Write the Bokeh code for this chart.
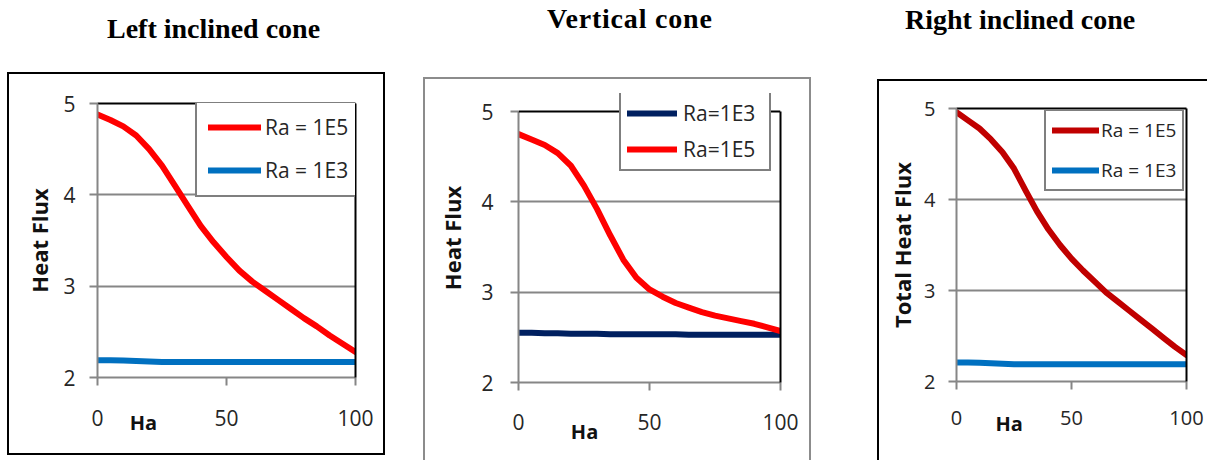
from bokeh.plotting import figure
from bokeh.models import (Range1d, FixedTicker, LinearAxis, Legend, LegendItem,
                          Div, Spacer, Span)
from bokeh.layouts import row, column
from bokeh.embed import file_html
from bokeh.resources import INLINE

# ---------------- data ----------------
ha = [0, 5, 10, 15, 20, 25, 30, 35, 40, 45, 50, 55, 60, 65, 70, 75, 80, 85, 90, 95, 100]

left_ra1e5 = [4.88, 4.82, 4.75, 4.65, 4.50, 4.32, 4.10, 3.88, 3.66, 3.48, 3.32,
              3.17, 3.05, 2.95, 2.85, 2.75, 2.65, 2.56, 2.46, 2.37, 2.28]
left_ra1e3 = [2.19, 2.19, 2.185, 2.18, 2.175, 2.17, 2.17, 2.17, 2.17, 2.17, 2.17,
              2.17, 2.17, 2.17, 2.17, 2.17, 2.17, 2.17, 2.17, 2.17, 2.17]

vert_ra1e3 = [2.55, 2.55, 2.545, 2.545, 2.54, 2.54, 2.54, 2.535, 2.535, 2.535, 2.535,
              2.535, 2.535, 2.53, 2.53, 2.53, 2.53, 2.53, 2.53, 2.53, 2.53]
vert_ra1e5 = [4.75, 4.69, 4.63, 4.54, 4.40, 4.18, 3.92, 3.63, 3.36, 3.16, 3.03,
              2.95, 2.88, 2.83, 2.78, 2.74, 2.71, 2.68, 2.65, 2.61, 2.57]

right_ra1e5 = [4.96, 4.87, 4.78, 4.66, 4.52, 4.34, 4.10, 3.87, 3.67, 3.50, 3.35,
               3.22, 3.10, 2.98, 2.88, 2.78, 2.68, 2.58, 2.48, 2.38, 2.29]
right_ra1e3 = [2.21, 2.21, 2.205, 2.20, 2.195, 2.19, 2.19, 2.19, 2.19, 2.19, 2.19,
               2.19, 2.19, 2.19, 2.19, 2.19, 2.19, 2.19, 2.19, 2.19, 2.19]

titles = ["Left inclined cone", "Vertical cone", "Right inclined cone"]
y_labels = ["Heat Flux", "Heat Flux", "Total Heat Flux"]
x_label = "Ha"
y_ticks = [2, 3, 4, 5]
x_ticks = [0, 50, 100]
grid_ticks = [3, 4]

GREY = "#868686"
TXT = "#262626"
FONT = "Open Sans"
NBSP = "\u00a0"


def make_panel(series, names, colors, legend_cfg, geom, cfg, ylab, border_css):
    mbl, fw, mbr, mbt, fh, mbb = geom
    ytop = cfg.get("ytop", 5)
    p = figure(width=mbl + fw + mbr, height=mbt + fh + mbb,
               x_range=Range1d(0, 100), y_range=Range1d(2, ytop),
               output_backend="svg", toolbar_location=None,
               min_border_left=mbl, min_border_right=mbr,
               min_border_top=mbt, min_border_bottom=mbb,
               background_fill_color="white", border_fill_color="white",
               styles=border_css)
    p.outline_line_color = None
    p.xgrid.visible = False
    p.ygrid.ticker = FixedTicker(ticks=grid_ticks)
    p.ygrid.grid_line_color = GREY
    p.ygrid.grid_line_width = 2

    ystand, ylstand, xstand, hastand = cfg["stand"]
    for ax, ticks, bnds in ((p.yaxis[0], y_ticks, (2, 5)), (p.xaxis[0], x_ticks, (0, 100))):
        ax.ticker = FixedTicker(ticks=ticks)
        ax.bounds = bnds
        ax.axis_line_color = GREY
        ax.axis_line_width = 2
        ax.major_tick_line_color = GREY
        ax.major_tick_line_width = 2
        ax.major_tick_out = 8
        ax.major_tick_in = 0
        ax.minor_tick_line_color = None
        ax.major_label_text_font = FONT
        ax.major_label_text_font_size = cfg["tick_size"]
        ax.major_label_text_color = TXT
    p.yaxis[0].major_label_standoff = ystand
    p.xaxis[0].major_label_standoff = xstand
    p.yaxis[0].axis_label = ylab
    p.yaxis[0].axis_label_standoff = ylstand
    p.yaxis[0].axis_label_text_font = FONT
    p.yaxis[0].axis_label_text_font_style = "bold"
    p.yaxis[0].axis_label_text_font_size = "22px"
    p.yaxis[0].axis_label_text_color = "#111111"

    # "Ha" placed left of centre, level with the tick labels
    xa = p.xaxis[0]
    xa.axis_label = x_label + NBSP * cfg["ha_pad"]
    xa.axis_label_standoff = hastand
    xa.axis_label_text_font = FONT
    xa.axis_label_text_font_style = "bold"
    xa.axis_label_text_font_size = "20px"
    xa.axis_label_text_color = "#111111"

    # black top and right edges of the plot area
    if ytop > 5:
        p.add_layout(Span(location=5, dimension="width", line_color="black",
                          line_width=2))
    else:
        p.add_layout(LinearAxis(ticker=FixedTicker(ticks=[]), axis_line_color="black",
                                axis_line_width=2, major_tick_line_color=None,
                                minor_tick_line_color=None, major_label_text_alpha=0),
                     "above")
    p.add_layout(LinearAxis(ticker=FixedTicker(ticks=[]), axis_line_color="black",
                            axis_line_width=2, major_tick_line_color=None,
                            minor_tick_line_color=None, major_label_text_alpha=0,
                            bounds=(2, 5)),
                 "right")

    rends = []
    for vals, col in zip(series, colors):
        r = p.line(ha, vals, line_color=col, line_width=6, line_cap="round",
                   line_join="round")
        rends.append(r)

    loc, pad, spc, gw, gh, lstand, lsize, lw = legend_cfg
    leg = Legend(items=[LegendItem(label=n, renderers=[r]) for n, r in zip(names, rends)],
                 location=loc, padding=pad, spacing=spc, glyph_width=gw,
                 glyph_height=gh, label_height=gh, label_standoff=lstand,
                 label_width=lw,
                 margin=0, border_line_color="black", border_line_width=2,
                 background_fill_color="white", background_fill_alpha=1.0,
                 label_text_font=FONT, label_text_font_size=lsize,
                 label_text_color=TXT)
    p.add_layout(leg)
    return p


def title_div(text, w, h, left, top, ls=0.0):
    html = ('<div style="margin-left:%dpx;margin-top:%dpx;font-family:\'Liberation Serif\','
            '\'Times New Roman\',serif;font-weight:bold;font-size:28px;line-height:34px;'
            'letter-spacing:%.1fpx;white-space:nowrap;color:#000">%s</div>'
            % (left, top, ls, text))
    return Div(text=html, width=w, height=h, margin=0)


p1 = make_panel([left_ra1e5, left_ra1e3], ["Ra = 1E5", "Ra = 1E3"],
                ["#FF0000", "#0070C0"],
                ((98, 180), 11, 15, 53, 20, 4, "21px", 85),
                (88, 258, 32, 29, 274, 80),
                {"stand": (14, 6, 24, -20), "tick_size": "21px", "ha_pad": 32},
                y_labels[0], {"border": "2px solid black"})

p2 = make_panel([vert_ra1e3, vert_ra1e5], ["Ra=1E3", "Ra=1E5"],
                ["#002060", "#FF0000"],
                ((101, 211), 6, 8, 50, 20, 6, "21px", 80),
                (93, 262, 33, 14, 289, 80),
                {"stand": (17, 11, 23, -15), "tick_size": "21px", "ha_pad": 25,
                 "ytop": 5.2},
                y_labels[1], {"border-top": "2px solid #8c8c8c",
                              "border-left": "2px solid #8c8c8c",
                              "border-right": "2px solid #8c8c8c"})

p3 = make_panel([right_ra1e5, right_ra1e3], ["Ra = 1E5", "Ra = 1E3"],
                ["#C00000", "#0070C0"],
                ((88, 190), 6, 14, 47, 20, 2, "19px", 20),
                (77, 230, 23, 27, 273, 81),
                {"stand": (13, 4, 21, -18), "tick_size": "20px", "ha_pad": 24},
                y_labels[2], {"border-top": "2px solid black",
                              "border-left": "2px solid black"})

c1 = column(title_div(titles[0], 382, 72, 100, 12), p1, spacing=0)
c2 = column(title_div(titles[1], 392, 77, 124, 2, 0.8), p2, spacing=0)
c3 = column(title_div(titles[2], 332, 79, 28, 3), p3, spacing=0)

layout = row(Spacer(width=7, height=10), c1, Spacer(width=34, height=10), c2,
             Spacer(width=62, height=10), c3, spacing=0)

open("out.html", "w").write(file_html(layout, INLINE))
